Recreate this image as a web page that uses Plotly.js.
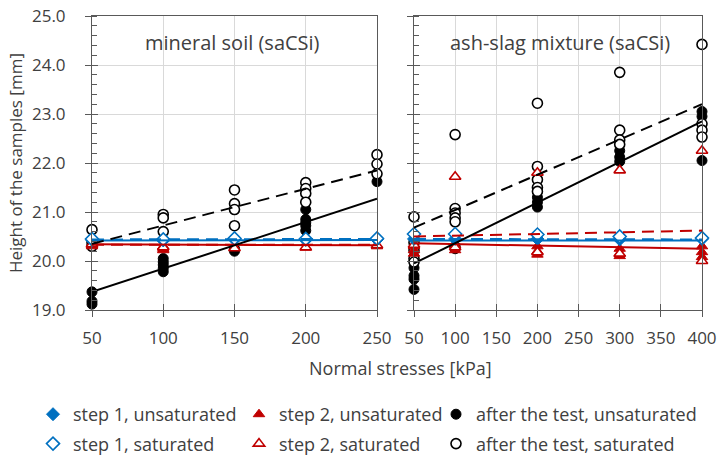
<!DOCTYPE html>
<html>
<head>
<meta charset="utf-8">
<script src="https://cdn.plot.ly/plotly-3.0.1.min.js"></script>
<style>
  html, body { margin: 0; padding: 0; background: #ffffff; }
  #chart { width: 718px; height: 460px; }
</style>
</head>
<body>
<div id="chart"></div>
<script>
// Normal stress levels [kPa]
const mineralStress = [50, 100, 150, 200, 250];
const ashStress = [50, 100, 200, 300, 400];

// Sample heights [mm], one list of samples per stress level — mineral soil (saCSi)
const mineralStep1Unsat = [[20.43], [20.42], [20.44], [20.43], [20.44]];
const mineralStep1Sat = [[20.45], [20.44], [20.46], [20.45], [20.46]];
const mineralStep2Unsat = [[20.33, 20.30], [20.30, 20.25, 20.22], [20.27], [20.27], [20.30]];
const mineralStep2Sat = [[20.34], [20.28], [20.26], [20.28], [20.32]];
const mineralAfterUnsat = [[19.37, 19.18, 19.12], [20.05, 19.98, 19.92, 19.85, 19.78], [20.20, 20.25], [21.05, 20.85, 20.78, 20.72, 20.62], [21.62]];
const mineralAfterSat = [[20.64, 20.38, 20.30], [20.95, 20.88, 20.60], [21.45, 21.17, 21.05, 20.72], [21.60, 21.48, 21.38, 21.20], [22.17, 21.98, 21.78]];

// Sample heights [mm] — ash-slag mixture (saCSi)
const ashStep1Unsat = [[20.45], [20.45], [20.45], [20.44], [20.45]];
const ashStep1Sat = [[20.55], [20.55], [20.54], [20.50], [20.47]];
const ashStep2Unsat = [[20.30, 20.22, 20.15], [20.32, 20.22], [20.30, 20.20, 20.13], [20.25, 20.15, 20.10], [20.30, 20.18, 20.08]];
const ashStep2Sat = [[20.33], [21.72, 20.28], [21.80, 20.18], [21.85, 20.15], [22.25, 20.00]];
const ashAfterUnsat = [[19.86, 19.70, 19.63, 19.42], [20.30, 20.25], [21.30, 21.20, 21.10], [22.25, 22.12, 22.03], [23.05, 22.95, 22.05]];
const ashAfterSat = [[20.90, 20.38, 20.22, 20.05, 19.98], [22.58, 21.07, 20.98, 20.88, 20.80], [23.22, 21.93, 21.66, 21.50, 21.42], [23.85, 22.67, 22.47, 22.38], [24.42, 22.80, 22.67, 22.53]];

// Linear trend lines: heights at the lowest and highest stress of each soil
const mineralTrendX = [50, 250];
const mineralTrendStep1Unsat = [20.42, 20.43];
const mineralTrendStep1Sat = [20.44, 20.45];
const mineralTrendStep2Unsat = [20.34, 20.32];
const mineralTrendStep2Sat = [20.33, 20.33];
const mineralTrendAfterUnsat = [19.37, 21.27];
const mineralTrendAfterSat = [20.35, 21.85];

const ashTrendX = [50, 400];
const ashTrendStep1Unsat = [20.42, 20.42];
const ashTrendStep1Sat = [20.45, 20.44];
const ashTrendStep2Unsat = [20.36, 20.25];
const ashTrendStep2Sat = [20.50, 20.62];
const ashTrendAfterUnsat = [19.95, 22.85];
const ashTrendAfterSat = [20.68, 23.20];

// Legend labels
const seriesNames = [
  'step 1, unsaturated', 'step 2, unsaturated', 'after the test, unsaturated',
  'step 1, saturated', 'step 2, saturated', 'after the test, saturated'
];

const BLUE = '#0070C0';
const RED = '#C00000';
const BLACK = '#000000';
const TEXT = '#404040';
const AXIS = '#595959';
const GRID = '#d9d9d9';
const FONT = 'Open Sans, Noto Sans, sans-serif';

function flatten(stress, groups) {
  const x = [], y = [];
  groups.forEach((g, i) => g.forEach(v => { x.push(stress[i]); y.push(v); }));
  return { x, y };
}

const styles = [
  { symbol: 'diamond', color: BLUE, size: 10, line: { color: BLUE, width: 1 } },
  { symbol: 'triangle-up', color: RED, size: 10, line: { color: RED, width: 1 } },
  { symbol: 'circle', color: BLACK, size: 10, line: { color: BLACK, width: 1 } },
  { symbol: 'diamond', color: '#ffffff', size: 10, line: { color: BLUE, width: 1.6 } },
  { symbol: 'triangle-up', color: '#ffffff', size: 10, line: { color: RED, width: 1.6 } },
  { symbol: 'circle', color: '#ffffff', size: 10, line: { color: BLACK, width: 1.6 } }
];

const mineralSeries = [mineralStep1Unsat, mineralStep2Unsat, mineralAfterUnsat, mineralStep1Sat, mineralStep2Sat, mineralAfterSat];
const ashSeries = [ashStep1Unsat, ashStep2Unsat, ashAfterUnsat, ashStep1Sat, ashStep2Sat, ashAfterSat];
const mineralTrends = [mineralTrendStep1Unsat, mineralTrendStep2Unsat, mineralTrendAfterUnsat, mineralTrendStep1Sat, mineralTrendStep2Sat, mineralTrendAfterSat];
const ashTrends = [ashTrendStep1Unsat, ashTrendStep2Unsat, ashTrendAfterUnsat, ashTrendStep1Sat, ashTrendStep2Sat, ashTrendAfterSat];
const lineColors = [BLUE, RED, BLACK, BLUE, RED, BLACK];

// each legend column holds the unsaturated and the saturated entry of one stage
const legendOf = ['legend', 'legend2', 'legend3', 'legend', 'legend2', 'legend3'];

// draw black points first, then red, then blue on top
const drawOrder = [2, 5, 1, 4, 0, 3];
const trendOrder = [4, 1, 3, 0, 5, 2];

const traces = [];

drawOrder.forEach(i => {
  const m = flatten(mineralStress, mineralSeries[i]);
  traces.push({
    type: 'scatter', mode: 'markers', x: m.x, y: m.y, xaxis: 'x', yaxis: 'y',
    name: seriesNames[i], legendgroup: 's' + i, legend: legendOf[i],
    legendrank: i, marker: styles[i], cliponaxis: false, hoverinfo: 'skip'
  });
  const a = flatten(ashStress, ashSeries[i]);
  traces.push({
    type: 'scatter', mode: 'markers', x: a.x, y: a.y, xaxis: 'x2', yaxis: 'y2',
    name: seriesNames[i], legendgroup: 's' + i, showlegend: false,
    marker: styles[i], cliponaxis: false, hoverinfo: 'skip'
  });
});

trendOrder.forEach(i => {
  const dash = i >= 3 ? '12px,7px' : 'solid';
  traces.push({
    type: 'scatter', mode: 'lines', x: mineralTrendX, y: mineralTrends[i], xaxis: 'x', yaxis: 'y',
    line: { color: lineColors[i], width: 2, dash: dash }, showlegend: false, hoverinfo: 'skip'
  });
  traces.push({
    type: 'scatter', mode: 'lines', x: ashTrendX, y: ashTrends[i], xaxis: 'x2', yaxis: 'y2',
    line: { color: lineColors[i], width: 2, dash: dash }, showlegend: false, hoverinfo: 'skip'
  });
});

// empty traces that carry the inner halves of the crossing tick marks
[['x3', 'y'], ['x', 'y3'], ['x4', 'y2'], ['x2', 'y4']].forEach(([xa, ya]) => {
  traces.push({ type: 'scatter', mode: 'markers', x: [], y: [], xaxis: xa, yaxis: ya, showlegend: false, hoverinfo: 'skip' });
});

const W = 718, H = 460;
const leftDom = [92 / W, 377 / W];
const rightDom = [414 / W, 702 / W];
const yDom = [1 - 310 / H, 1 - 16 / H];

const tickFont = { family: FONT, size: 17, color: TEXT };

function xAxis(dom, range, anchor) {
  return {
    domain: dom, range: range, anchor: anchor, tick0: 50, dtick: 50,
    ticks: 'outside', ticklen: 6, tickwidth: 1, tickcolor: AXIS,
    showline: true, linecolor: AXIS, linewidth: 1, mirror: true,
    showgrid: true, gridcolor: GRID, gridwidth: 1, zeroline: false,
    tickfont: tickFont, ticklabelstandoff: 7, fixedrange: true
  };
}
function yAxis(anchor, labels) {
  return {
    domain: yDom, range: [19, 25], anchor: anchor, tick0: 19, dtick: 1, tickformat: '.1f',
    ticks: 'outside', ticklen: 6, tickwidth: 1, tickcolor: AXIS,
    minor: { dtick: 0.2, ticks: 'inside', ticklen: 5, tickwidth: 1, tickcolor: AXIS, showgrid: false },
    showline: true, linecolor: AXIS, linewidth: 1, mirror: true,
    showgrid: true, gridcolor: GRID, gridwidth: 1, zeroline: false,
    showticklabels: labels, tickfont: tickFont, ticklabelstandoff: 16, fixedrange: true
  };
}
function xInner(over, range, anchor) {
  return {
    overlaying: over, range: range, anchor: anchor, side: 'bottom', tick0: 50, dtick: 50,
    ticks: 'inside', ticklen: 6, tickwidth: 1, tickcolor: AXIS,
    showticklabels: false, showgrid: false, showline: false, zeroline: false, fixedrange: true
  };
}
function yInner(over, anchor) {
  return {
    overlaying: over, range: [19, 25], anchor: anchor, side: 'left', tick0: 19, dtick: 1,
    ticks: 'inside', ticklen: 6, tickwidth: 1, tickcolor: AXIS,
    showticklabels: false, showgrid: false, showline: false, zeroline: false, fixedrange: true
  };
}

const legendTop = 1 - 396 / H;
const legendBase = {
  orientation: 'v', xanchor: 'left', yanchor: 'top', y: legendTop,
  font: { family: FONT, size: 18, color: TEXT },
  bgcolor: 'rgba(0,0,0,0)', tracegroupgap: 3, traceorder: 'grouped',
  itemclick: false, itemdoubleclick: false
};

const layout = {
  width: W, height: H,
  margin: { l: 0, r: 0, t: 0, b: 0, autoexpand: false },
  paper_bgcolor: '#ffffff', plot_bgcolor: 'rgba(0,0,0,0)',
  font: { family: FONT, color: TEXT },
  showlegend: true,
  xaxis: xAxis(leftDom, [50, 250], 'y'),
  yaxis: yAxis('x', true),
  xaxis2: xAxis(rightDom, [50, 400], 'y2'),
  yaxis2: yAxis('x2', false),
  xaxis3: xInner('x', [50, 250], 'y'),
  yaxis3: yInner('y', 'x'),
  xaxis4: xInner('x2', [50, 400], 'y2'),
  yaxis4: yInner('y2', 'x2'),
  legend: Object.assign({}, legendBase, { x: 33 / W }),
  legend2: Object.assign({}, legendBase, { x: 239 / W }),
  legend3: Object.assign({}, legendBase, { x: 436 / W }),
  annotations: [
    { text: 'mineral soil (saCSi)', xref: 'paper', yref: 'paper', x: 232 / W, y: 1 - 42 / H,
      xanchor: 'center', yanchor: 'middle', showarrow: false, font: { family: FONT, size: 20, color: TEXT } },
    { text: 'ash-slag mixture (saCSi)', xref: 'paper', yref: 'paper', x: 560 / W, y: 1 - 42 / H,
      xanchor: 'center', yanchor: 'middle', showarrow: false, font: { family: FONT, size: 20, color: TEXT } },
    { text: 'Normal stresses [kPa]', xref: 'paper', yref: 'paper', x: 400 / W, y: 1 - 368 / H,
      xanchor: 'center', yanchor: 'middle', showarrow: false, font: { family: FONT, size: 18, color: TEXT } },
    { text: 'Height of the samples [mm]', xref: 'paper', yref: 'paper', x: 15 / W, y: 1 - 163 / H,
      xanchor: 'center', yanchor: 'middle', textangle: -90, showarrow: false, font: { family: FONT, size: 17, color: TEXT } }
  ]
};

Plotly.newPlot('chart', traces, layout, { displayModeBar: false, staticPlot: true });
</script>
</body>
</html>
